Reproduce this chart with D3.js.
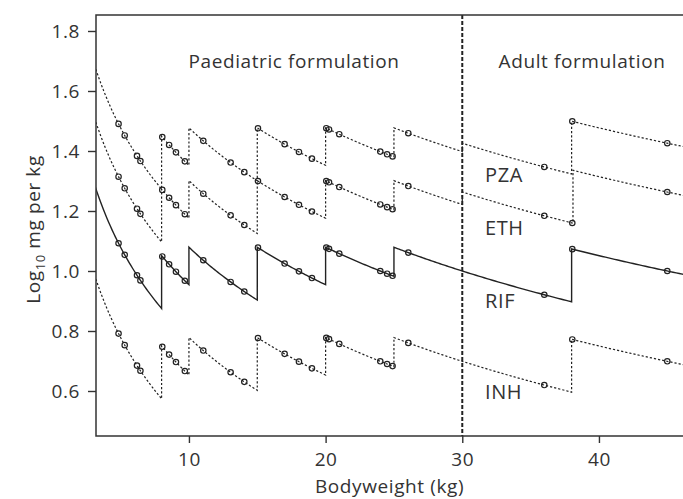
<!DOCTYPE html>
<html>
<head>
<meta charset="utf-8">
<script src="https://cdn.jsdelivr.net/npm/d3@7"></script>
<style>
  html, body { margin: 0; padding: 0; background: #fff; }
  svg text { font-family: "Open Sans", "Noto Sans", sans-serif; fill: #333; letter-spacing: 0.6px; }
</style>
</head>
<body>
<svg id="chart" width="683" height="499"></svg>
<script>
// ---- data ----
const bandEdges = [3, 8, 10, 15, 20, 25, 30, 38, 47];          // weight bands (kg)
const ethBandEdges = [3, 8, 10, 15, 20, 25, 30, 38.1, 47];     // ETH: 38 kg stays in lower band
const rifDose = [60, 90, 120, 180, 240, 300, 300, 450];         // mg
const inhDose = [30, 45, 60, 90, 120, 150, 150, 225];
const pzaDose = [150, 225, 300, 450, 600, 750, 800, 1200];
const ethDose = [100, 150, 200, 300, 400, 500, 550, 825];
const sampleWeights = [4.85, 5.3, 6.2, 6.45, 8.05, 8.55, 9.05, 9.7, 11.05, 13.05, 14.05, 15.05,
                       17, 18.05, 19, 20.05, 20.25, 21, 24, 24.5, 24.9, 26.05, 36, 38.05, 45];
const drugNames = ["PZA", "ETH", "RIF", "INH"];
const xTicks = [10, 20, 30, 40];
const yTicks = [0.6, 0.8, 1.0, 1.2, 1.4, 1.6, 1.8];
const formulationSplit = 30;

const drugs = [
  {name: "PZA", dose: pzaDose, edges: bandEdges, dashed: true},
  {name: "ETH", dose: ethDose, edges: ethBandEdges, dashed: true},
  {name: "RIF", dose: rifDose, edges: bandEdges, dashed: false},
  {name: "INH", dose: inhDose, edges: bandEdges, dashed: true}
];

// ---- layout ----
const svg = d3.select("#chart");
const pL = 96, pR = 683, pT = 15, pB = 436;
const x = d3.scaleLinear().domain([3.2, 46.15]).range([pL, pR]);
const y = d3.scaleLinear().domain([0.45, 1.8533]).range([pB, pT]);
const ink = "#222";

svg.append("defs").append("clipPath").attr("id", "plotclip")
  .append("rect").attr("x", pL).attr("y", pT).attr("width", pR - pL).attr("height", pB - pT);

function bandIndex(edges, w) {
  for (let i = 0; i < edges.length - 1; i++) {
    if (w >= edges[i] && w < edges[i + 1]) return i;
  }
  return edges.length - 2;
}
function curvePoints(dose, edges) {
  const pts = [];
  for (let i = 0; i < dose.length; i++) {
    const lo = edges[i], hi = edges[i + 1];
    const n = 40;
    for (let k = 0; k <= n; k++) {
      const w = lo + (hi - lo) * k / n;
      pts.push([w, Math.log10(dose[i] / w)]);
    }
  }
  return pts;
}

const plot = svg.append("g").attr("clip-path", "url(#plotclip)");
const line = d3.line().x(d => x(d[0])).y(d => y(d[1]));

drugs.forEach(dr => {
  plot.append("path")
    .attr("d", line(curvePoints(dr.dose, dr.edges)))
    .attr("fill", "none")
    .attr("stroke", ink)
    .attr("stroke-width", dr.dashed ? 1.2 : 1.4)
    .attr("stroke-dasharray", dr.dashed ? "2.2,2" : null);
});

drugs.forEach(dr => {
  plot.selectAll(null).data(sampleWeights).enter().append("circle")
    .attr("cx", w => x(w))
    .attr("cy", w => y(Math.log10(dr.dose[bandIndex(dr.edges, w)] / w)))
    .attr("r", 2.7)
    .attr("fill", "none")
    .attr("stroke", ink)
    .attr("stroke-width", 1.2);
});

// formulation split line
svg.append("line")
  .attr("x1", x(formulationSplit)).attr("x2", x(formulationSplit))
  .attr("y1", pT).attr("y2", pB)
  .attr("stroke", ink).attr("stroke-width", 2).attr("stroke-dasharray", "4,2");

// frame (top, left, bottom)
svg.append("path")
  .attr("d", `M${pR},${pT}H${pL}V${pB}H${pR}`)
  .attr("fill", "none").attr("stroke", "#333").attr("stroke-width", 1.5);

// axes
const xAxis = svg.append("g").attr("transform", `translate(0,${pB})`)
  .call(d3.axisBottom(x).tickValues(xTicks).tickSize(7).tickPadding(10).tickFormat(d3.format("d")));
const yAxis = svg.append("g").attr("transform", `translate(${pL},0)`)
  .call(d3.axisLeft(y).tickValues(yTicks).tickSize(8).tickPadding(8).tickFormat(d3.format(".1f")));
[xAxis, yAxis].forEach(a => {
  a.select(".domain").remove();
  a.selectAll(".tick line").attr("stroke", "#333").attr("stroke-width", 1.4);
  a.selectAll(".tick text").style("font-size", "19px").attr("fill", "#333");
});

// axis titles
svg.append("text").attr("x", (pL + pR) / 2).attr("y", 493)
  .attr("text-anchor", "middle").style("font-size", "19px").text("Bodyweight (kg)");
const yt = svg.append("text")
  .attr("transform", `translate(40,${(pT + pB) / 2 + 4}) rotate(-90)`)
  .attr("text-anchor", "middle").style("font-size", "19px");
yt.append("tspan").text("Log");
yt.append("tspan").attr("dy", 5).style("font-size", "13px").text("10");
yt.append("tspan").attr("dy", -5).text(" mg per kg");

// region labels
svg.append("text").attr("x", 294).attr("y", 68).attr("text-anchor", "middle")
  .style("font-size", "19px").text("Paediatric formulation");
svg.append("text").attr("x", 582).attr("y", 68).attr("text-anchor", "middle")
  .style("font-size", "19px").text("Adult formulation");

// drug labels
const labelBase = {PZA: 182, ETH: 235, RIF: 308, INH: 399};
drugNames.forEach(n => {
  svg.append("text").attr("x", 485).attr("y", labelBase[n])
    .style("font-size", "20px").text(n);
});
</script>
</body>
</html>
